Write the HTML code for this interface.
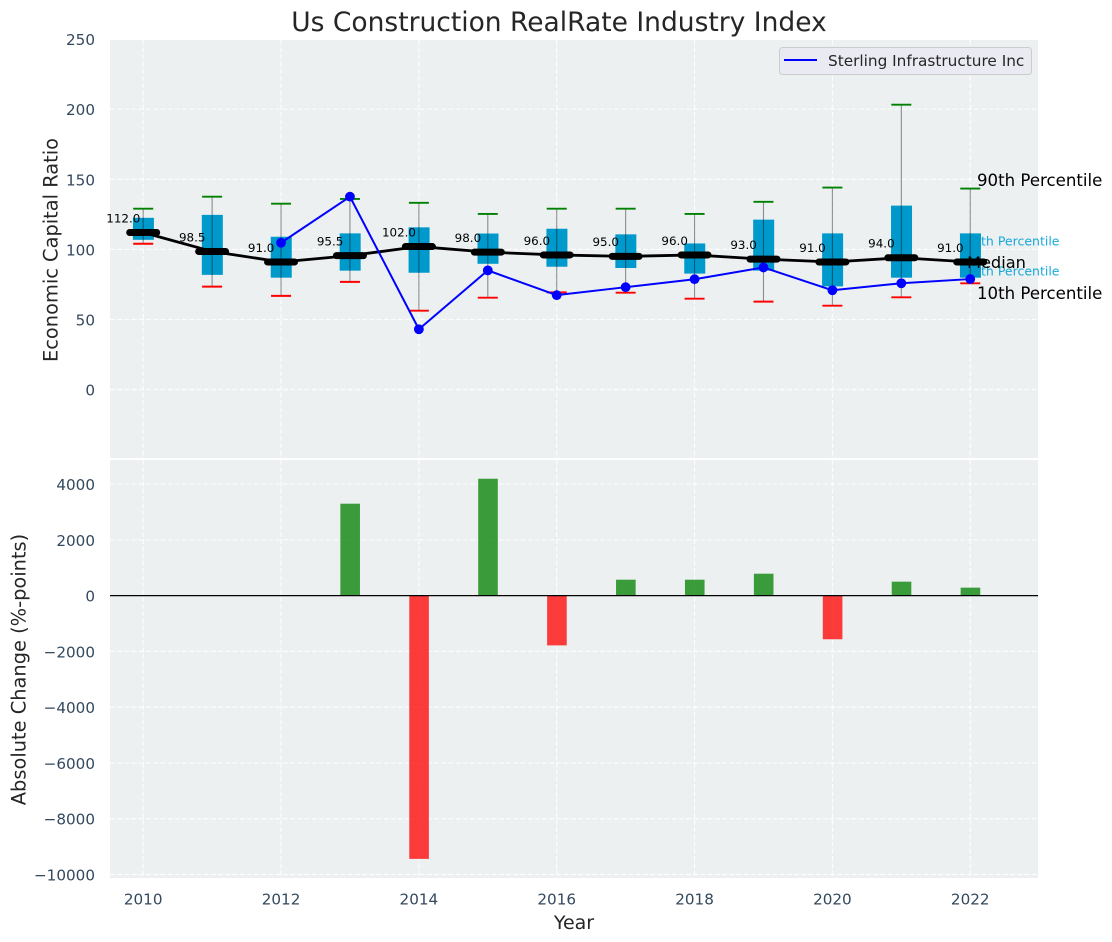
<!DOCTYPE html>
<html lang="en">
<head>
<meta charset="utf-8">
<title>Us Construction RealRate Industry Index</title>
<style>
html,body{margin:0;padding:0;background:#fff;width:1112px;height:942px;overflow:hidden}
svg{display:block}
text{font-family:"DejaVu Sans","Liberation Sans",sans-serif}
</style>
</head>
<body>
<svg id="chart" xmlns="http://www.w3.org/2000/svg" width="1112" height="942" viewBox="0 0 1112 942">
  <rect x="0" y="0" width="1112" height="942" fill="#ffffff"/>
  <rect x="110" y="40" width="928" height="418" fill="#ecf0f1"/>
  <rect x="110" y="460" width="928" height="418" fill="#ecf0f1"/>
  <g id="grid"></g>
  <g id="back"></g>
  <g id="bars"></g>
  <g id="boxes"></g>
  <g id="ticks"></g>
  <text x="559" y="31" font-size="26.5" fill="#262626" text-anchor="middle">Us Construction RealRate Industry Index</text>
  <text transform="translate(57.5,250) rotate(-90)" font-size="19.4" fill="#262626" text-anchor="middle">Economic Capital Ratio</text>
  <text transform="translate(25.5,669.5) rotate(-90)" font-size="19.4" fill="#262626" text-anchor="middle">Absolute Change (%-points)</text>
  <text x="574" y="929" font-size="19" fill="#262626" text-anchor="middle">Year</text>
  <g>
    <rect x="779.5" y="47.5" width="252" height="27" rx="3" fill="#eaeaf2" stroke="#cccccc" stroke-width="1"/>
    <line x1="784" y1="60" x2="817" y2="60" stroke="#0000ff" stroke-width="2"/>
    <text x="828" y="66" font-size="15.3" fill="#262626">Sterling Infrastructure Inc</text>
  </g>
  <g id="front"></g>
</svg>
<script>
var years = [2010,2011,2012,2013,2014,2015,2016,2017,2018,2019,2020,2021,2022];
var p90 = [129,137.6,132.6,136,133.2,125.3,129,129,125.3,133.9,144.1,203.2,143.4];
var p10 = [104,73.4,66.8,76.8,56.2,65.5,69.3,69.1,64.8,62.7,59.8,65.8,75.8];
var p75 = [122.5,124.6,109,111.4,115.7,111.3,114.7,110.7,104.2,121.2,111.4,131.2,111.4];
var p25 = [106.8,81.8,79.8,84.8,83.3,89.7,87.6,86.7,82.7,84.8,73.6,79.8,79.8];
var medians = [112,98.5,91,95.5,102,98,96,95,96,93,91,94,91];
var company = [null,null,104.7,137.6,43,85,67.3,73,78.7,87.1,70.8,75.8,78.8];
var changes = [null,null,null,3295,-9440,4190,-1785,570,570,785,-1565,500,285];
var xTicks = [2010,2012,2014,2016,2018,2020,2022];
var topTicks = [0,50,100,150,200,250];
var bottomTicks = [4000,2000,0,-2000,-4000,-6000,-8000,-10000];

var NS = 'http://www.w3.org/2000/svg';
function x(v){ return 143.2 + 68.92 * (v - 2010); }
function yTop(v){ return 389.5 - 1.4015 * v; }
function yBot(v){ return 595.6 - 0.02789 * v; }
function mk(parent, tag, props, txt){
  var e = document.createElementNS(NS, tag);
  for (var k in props) e.setAttribute(k, props[k]);
  if (txt !== undefined) e.textContent = txt;
  document.getElementById(parent).appendChild(e);
  return e;
}
var el;
var gridStyle = {stroke:'#ffffff','stroke-width':1.2,'stroke-dasharray':'5 2.2','stroke-opacity':0.85};
function withStyle(o){ for (var k in gridStyle) o[k] = gridStyle[k]; return o; }

xTicks.forEach(function(t){
  el = mk('grid','line',withStyle({x1:x(t),x2:x(t),y1:40,y2:458}));
  
  
  el = mk('grid','line',withStyle({x1:x(t),x2:x(t),y1:460,y2:878}));
  
  
  el = mk('ticks','text',{x:x(t),y:904.5,'font-size':15.2,fill:'#34495e','text-anchor':'middle'},String(t));
  
  
});
topTicks.forEach(function(t){
  el = mk('grid','line',withStyle({x1:110,x2:1038,y1:yTop(t),y2:yTop(t)}));
  
  
  el = mk('ticks','text',{x:95,y:yTop(t)+6,'font-size':15.2,fill:'#34495e','text-anchor':'end'},String(t));
  
  
});
bottomTicks.forEach(function(t){
  el = mk('grid','line',withStyle({x1:110,x2:1038,y1:yBot(t),y2:yBot(t)}));
  
  
  el = mk('ticks','text',{x:95,y:yBot(t)+6,'font-size':15.2,fill:'#34495e','text-anchor':'end'},String(t).replace('-','\u2212'));
  
  
});

el = mk('back','text',{x:1059.5,y:245.5,'font-size':12.5,fill:'#00a0d6','fill-opacity':0.9,'text-anchor':'end'},'75th Percentile');


el = mk('back','text',{x:1059.5,y:275.5,'font-size':12.5,fill:'#00a0d6','fill-opacity':0.9,'text-anchor':'end'},'25th Percentile');



changes.forEach(function(c,i){
  if (c === null) return;
  var y0 = yBot(0), y1 = yBot(c);
  el = mk('bars','rect',{x:x(years[i])-9.6,width:19.6,y:Math.min(y0,y1),height:Math.abs(y1-y0),fill:c>=0?'#008000':'#ff0000','fill-opacity':0.76});
  
  
});
el = mk('bars','line',{x1:110,x2:1038,y1:yBot(0),y2:yBot(0),stroke:'#000000','stroke-width':1.3});



years.forEach(function(yr,i){
  var cx = x(yr);
  el = mk('boxes','rect',{x:cx-10.3,width:21,y:yTop(p75[i]),height:yTop(p25[i])-yTop(p75[i]),fill:'#0099cc'});
  
  
  el = mk('boxes','line',{x1:cx,x2:cx,y1:yTop(p90[i]),y2:yTop(p10[i]),stroke:'#000000','stroke-opacity':0.42,'stroke-width':1.1});
  
  
  el = mk('boxes','line',{x1:cx-10,x2:cx+10,y1:yTop(p90[i]),y2:yTop(p90[i]),stroke:'#008000','stroke-width':1.9});
  
  
  el = mk('boxes','line',{x1:cx-10,x2:cx+10,y1:yTop(p10[i]),y2:yTop(p10[i]),stroke:'#ff0000','stroke-width':1.9});
  
  
});

el = mk('boxes','polyline',{points:years.map(function(yr,i){return x(yr)+','+yTop(medians[i]);}).join(' '),fill:'none',stroke:'#000000','stroke-width':2.8,'stroke-linejoin':'round'});



years.forEach(function(yr,i){
  var cx = x(yr), my = yTop(medians[i]);
  el = mk('boxes','line',{x1:cx-13.5,x2:cx+13.5,y1:my,y2:my,stroke:'#000000','stroke-width':7,'stroke-linecap':'round'});
  
  
  el = mk('front','text',{x:cx-19.9,y:my-10.2,'font-size':11.9,fill:'#000000','text-anchor':'middle'},medians[i].toFixed(1));
  
  
});

var pts = [];
company.forEach(function(v,i){ if (v !== null) pts.push(x(years[i])+','+yTop(v)); });
el = mk('boxes','polyline',{points:pts.join(' '),fill:'none',stroke:'#0000ff','stroke-width':2,'stroke-linejoin':'round'});


company.forEach(function(v,i){
  if (v === null) return;
  el = mk('boxes','circle',{cx:x(years[i]),cy:yTop(v),r:4.9,fill:'#0000ff'});
  
  
});

el = mk('front','text',{x:977,y:186,'font-size':16.6,fill:'#000000'},'90th Percentile');


el = mk('front','text',{x:967,y:268,'font-size':16.2,fill:'#000000'},'Median');


el = mk('front','text',{x:977,y:299,'font-size':16.6,fill:'#000000'},'10th Percentile');


</script>
</body>
</html>
